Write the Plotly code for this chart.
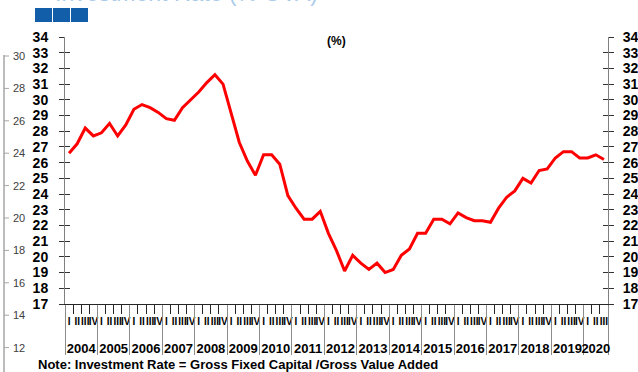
import plotly.graph_objects as go

# quarterly investment rate, 2004 Q1 .. 2020 Q3
years = list(range(2004, 2021))
quarters = ["I", "II", "III", "IV"]
rate = [26.6, 27.2, 28.2, 27.7, 27.9, 28.5, 27.7, 28.4,
        29.4, 29.7, 29.5, 29.2, 28.8, 28.7, 29.5, 30.0,
        30.5, 31.1, 31.6, 31.0, 29.1, 27.3, 26.1, 25.2,
        26.5, 26.5, 25.9, 23.9, 23.1, 22.4, 22.4, 22.9,
        21.5, 20.4, 19.1, 20.1, 19.6, 19.2, 19.6, 19.0,
        19.2, 20.1, 20.5, 21.5, 21.5, 22.4, 22.4, 22.1,
        22.8, 22.5, 22.3, 22.3, 22.2, 23.1, 23.8, 24.2,
        25.0, 24.7, 25.5, 25.6, 26.3, 26.7, 26.7, 26.3,
        26.3, 26.5, 26.2]
y_ticks = list(range(17, 35))
# labels of the chart sitting behind this one (mostly hidden)
back_ticks = [30, 28, 26, 24, 22, 20, 18, 16, 14, 12]

FONT = "Arial, Liberation Sans, sans-serif"
W, H = 638, 372
L, R, T, B = 65, 30, 37, 68

n = len(rate)
xs = [i + 0.5 for i in range(n)]
q_labels = [quarters[i % 4] for i in range(n)]
year_bounds = [4 * k for k in range(len(years))] + [n]
year_centers = [(a + b) / 2 for a, b in zip(year_bounds[:-1], year_bounds[1:])]


def px(x):
    return (x - L) / (W - L - R)


def py(y):
    return (H - B - y) / (H - T - B)


fig = go.Figure()
fig.add_trace(go.Scatter(x=xs, y=rate, mode="lines",
                         line=dict(color="#ff0000", width=3),
                         hoverinfo="skip", showlegend=False))

common_x = dict(range=[0, n], showgrid=False, zeroline=False, anchor="y",
                automargin=False, fixedrange=True, tickangle=0)
common_y = dict(range=[17, 34], showgrid=False, zeroline=False, anchor="x",
                automargin=False, fixedrange=True, tickvals=y_ticks)

fig.update_layout(
    template="none",
    width=W, height=H,
    margin=dict(l=L, r=R, t=T, b=B),
    paper_bgcolor="white", plot_bgcolor="white",
    font=dict(family=FONT, color="black"),
    showlegend=False,
    xaxis=dict(**common_x, showline=True, linecolor="#262626", linewidth=1,
               ticks="outside", tickvals=list(range(n + 1)), ticklen=9,
               tickcolor="#262626", showticklabels=False),
    xaxis2=dict(**common_x, overlaying="x", side="bottom", showline=False,
                ticks="outside", ticklen=8, tickcolor="rgba(0,0,0,0)",
                tickvals=xs, ticktext=q_labels,
                tickfont=dict(size=10, weight="bold", family=FONT)),
    xaxis3=dict(**common_x, overlaying="x", side="bottom", showline=False,
                ticks="outside", ticklen=50, tickcolor="#8c8c8c",
                tickvals=year_bounds, showticklabels=False),
    xaxis4=dict(**common_x, overlaying="x", side="bottom", showline=False,
                ticks="outside", ticklen=32, tickcolor="rgba(0,0,0,0)",
                tickvals=year_centers, ticktext=[str(y) for y in years],
                tickfont=dict(size=13, weight="bold", family=FONT)),
    yaxis=dict(**common_y, side="left", showline=True, linecolor="#808080",
               ticks="outside", ticklen=5, tickcolor="#333333",
               ticklabelstandoff=8,
               tickfont=dict(size=14, weight="bold", family=FONT)),
    yaxis2=dict(**common_y, overlaying="y", side="right", showline=True,
                linecolor="#808080", ticks="outside", ticklen=5,
                tickcolor="#333333", ticklabelstandoff=6,
                tickfont=dict(size=14, weight="bold", family=FONT)),
    yaxis3=dict(**common_y, overlaying="y", side="left", showline=False,
                ticks="inside", ticklen=5, tickcolor="#333333",
                showticklabels=False),
    yaxis4=dict(**common_y, overlaying="y", side="right", showline=False,
                ticks="inside", ticklen=5, tickcolor="#333333",
                showticklabels=False),
)

# empty traces so the extra axes are drawn
for xa, ya in [("x2", "y"), ("x3", "y"), ("x4", "y"),
               ("x", "y2"), ("x", "y3"), ("x", "y4")]:
    fig.add_trace(go.Scatter(x=[None], y=[None], xaxis=xa, yaxis=ya,
                             hoverinfo="skip", showlegend=False))

fig.add_annotation(text="<b>(%)</b>", x=px(336), y=py(32), xref="paper",
                   yref="paper", showarrow=False, font=dict(size=12))
fig.add_annotation(text="<b>Note: Investment Rate = Gross Fixed Capital /Gross Value Added</b>",
                   x=px(36), y=py(365), xref="paper", yref="paper",
                   xanchor="left", yanchor="middle", showarrow=False,
                   font=dict(size=13))

# slide title, cut off by the top edge
fig.add_annotation(text="Investment Rate (% GVA)", x=px(320), y=py(8),
                   xref="paper", yref="paper", xanchor="right",
                   yanchor="bottom", showarrow=False,
                   font=dict(size=23, color="#a9cbeb"))

# three blue squares of the slide header
for x0 in (35, 53, 71):
    fig.add_shape(type="rect", xref="paper", yref="paper",
                  x0=px(x0), x1=px(x0 + 17), y0=py(22), y1=py(8),
                  fillcolor="#125ea9", line_width=0)

# axis of the chart behind
fig.add_shape(type="line", xref="paper", yref="paper",
              x0=px(4), x1=px(4), y0=py(55), y1=py(H + 5),
              line=dict(color="#a6a6a6", width=1.5))
for k, v in enumerate(back_ticks):
    yy = 56 + k * 32.4
    fig.add_shape(type="line", xref="paper", yref="paper",
                  x0=px(4), x1=px(9), y0=py(yy), y1=py(yy),
                  line=dict(color="#a6a6a6", width=1))
    fig.add_annotation(text=str(v), x=px(27), y=py(yy), xref="paper",
                       yref="paper", xanchor="right", yanchor="middle",
                       showarrow=False, font=dict(size=11, color="#404040"))

fig.write_html("out.html", config={"displayModeBar": False},
               post_script="document.body.style.margin='0';")
